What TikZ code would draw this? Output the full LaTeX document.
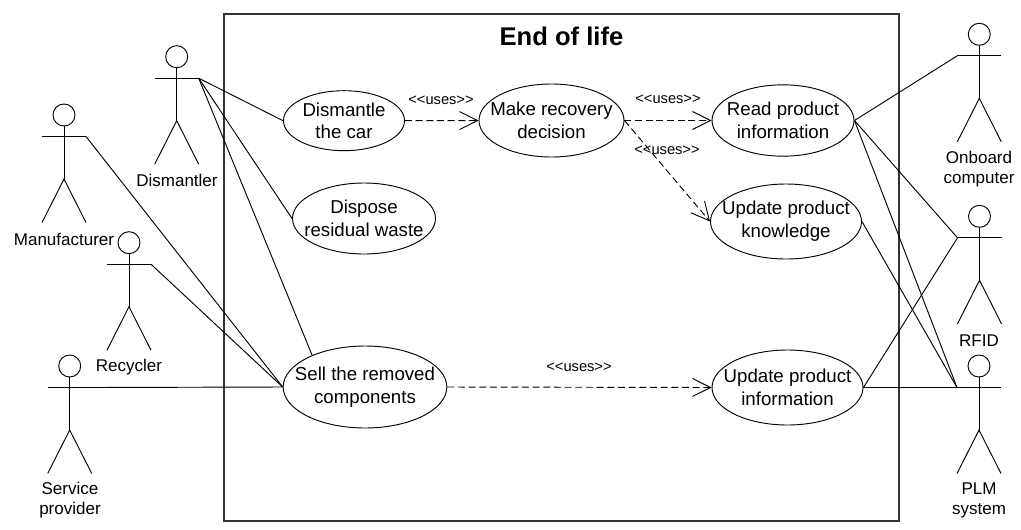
\documentclass[tikz,border=0pt]{standalone}
\usepackage{fontspec}
\setmainfont{Liberation Sans}
\usetikzlibrary{arrows.meta, shapes.geometric}
\tikzset{
  usecase/.style={draw, ellipse, inner xsep=-25pt, inner ysep=-15pt, align=center, font=\fontsize{14}{17}\selectfont},
  actorhead/.style={draw, circle, inner sep=0pt, minimum size=16.5pt},
  actorlabel/.style={align=center, inner sep=0pt, font=\fontsize{12.75}{15.5}\selectfont},
  useslabel/.style={inner sep=0pt, font=\fontsize{11}{13}\selectfont},
  uses/.style={dash pattern=on 5.25pt off 2.75pt, -{Straight Barb[length=13.5pt,width=13.5pt]}}
}
\begin{document}
\begin{tikzpicture}[x=0.75pt, y=-0.75pt, line width=0.7pt]
\path[use as bounding box] (0,0) rectangle (1021,529);

% System boundary
\draw[line width=1.1pt, black!80] (224,14) rectangle (899,521);
\node[inner sep=0pt, font=\fontsize{19.2}{22}\selectfont\bfseries] (title) at (561.5,36) {End of life};

% Actors
\foreach \name/\x/\y in {dismantler/176.7/56.7, manufacturer/64/115, recycler/129/242.7,
    service/69.7/366, onboard/979.3/34.3, rfid/979.5/216.3, plm/979/366} {
    \node[actorhead] (\name) at (\x,\y) {};
    \coordinate (\name-l) at (\x-22,\y+21.5);
    \coordinate (\name-r) at (\x+22,\y+21.5);
    \coordinate (\name-hip) at (\x,\y+64);
    \draw (\name-l) -- (\name-r);
    \draw (\name) -- (\name-hip);
    \draw (\x-22,\y+107.5) -- (\name-hip) -- (\x+22,\y+107.5);
}
\node[actorlabel] (dismantlerlabel) at (177,180.5) {Dismantler};
\node[actorlabel] (manufacturerlabel) at (64,239) {Manufacturer};
\node[actorlabel] (recyclerlabel) at (129,367) {Recycler};
\node[actorlabel] (servicelabel) at (70,500) {Service\\provider};
\node[actorlabel] (onboardlabel) at (979,169) {Onboard\\computer};
\node[actorlabel] (rfidlabel) at (979,341) {RFID};
\node[actorlabel] (plmlabel) at (979,500.5) {PLM\\system};

% Use cases
\node[usecase, minimum width=90.75pt, minimum height=45pt] (dismantle) at (344,120.7) {Dismantle\\the car};
\node[usecase, minimum width=108.75pt, minimum height=54.75pt] (decision) at (551.5,120.5) {Make recovery\\decision};
\node[usecase, minimum width=106.5pt, minimum height=53.5pt] (read) at (783,120.5) {Read product\\information};
\node[usecase, minimum width=107.25pt, minimum height=53.25pt] (dispose) at (364,218.5) {Dispose\\residual waste};
\node[usecase, minimum width=113.25pt, minimum height=56.25pt] (knowledge) at (786,221.5) {Update product\\knowledge};
\node[usecase, minimum width=122.75pt, minimum height=61.5pt] (sell) at (365,387) {Sell the removed\\components};
\node[usecase, minimum width=113.25pt, minimum height=56.25pt] (update) at (787.5,387.5) {Update product\\information};

% Associations
\draw (dismantler-r) -- (dismantle.west);
\draw (dismantler-r) -- (dispose.west);
\draw (dismantler-r) -- (sell.149);
\draw (manufacturer-r) -- (sell.west);
\draw (recycler-r) -- (sell.west);
\draw (service-r) -- (sell.west);
\draw (read.east) -- (onboard-l);
\draw (read.east) -- (rfid-l);
\draw (read.east) -- (plm-l);
\draw (knowledge.east) -- (plm-l);
\draw (update.east) -- (rfid-l);
\draw (update.east) -- (plm-l);

% Uses relations
\draw[uses] (dismantle.east) -- (decision.west);
\draw[uses] (decision.east) -- (read.west);
\draw[uses] (decision.east) -- (knowledge.west);
\draw[uses] (sell.east) -- (update.west);
\node[useslabel] (usesa) at (441,100) {<{}<uses>{}>};
\node[useslabel] (usesb) at (668,99) {<{}<uses>{}>};
\node[useslabel] (usesc) at (667,150) {<{}<uses>{}>};
\node[useslabel] (usesd) at (579,367) {<{}<uses>{}>};
\end{tikzpicture}
\end{document}
